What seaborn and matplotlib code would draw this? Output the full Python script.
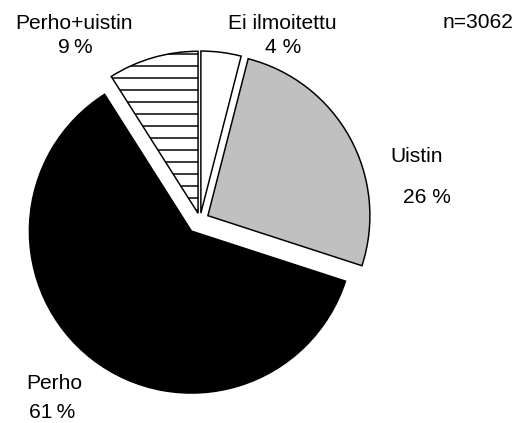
import matplotlib
matplotlib.use("Agg")
import matplotlib.pyplot as plt
import seaborn as sns

# ──────────────────────────────────────────────────────────────
# Data
# ──────────────────────────────────────────────────────────────
labels = ["Ei ilmoitettu", "Uistin", "Perho", "Perho+uistin"]
shares = [4, 26, 61, 9]
pct_text = ["4 %", "26 %", "61\u2009%", "9\u2009%"]
n_total = 3062

# ──────────────────────────────────────────────────────────────
# Style
# ──────────────────────────────────────────────────────────────
sns.set_theme(style="white")
plt.rcParams["font.family"] = ["Liberation Sans", "DejaVu Sans"]
plt.rcParams["hatch.linewidth"] = 1.5

W, H = 519, 423
fig = plt.figure(figsize=(W / 72, H / 72), dpi=72)
ax = fig.add_axes([0, 0, 1, 1])

colors = ["white", "#c0c0c0", "black", "white"]
hatches = ["", "", "", "-"]
# pie explode is in data units here (pixels)
explode = [7, 9, 14, 7]

wedges, _ = ax.pie(
    shares,
    colors=colors,
    explode=explode,
    startangle=90,
    counterclock=False,
    radius=162,
    center=(200, H - 220),
    wedgeprops=dict(edgecolor="black", linewidth=1.5),
)
for w, h in zip(wedges, hatches):
    if h:
        w.set_hatch(h)

ax.set_xlim(0, W)
ax.set_ylim(0, H)
ax.set_aspect("equal")
ax.axis("off")

fs = 21
txt = dict(fontsize=fs, color="black", va="baseline")

# labels around the pie
ax.text(74, H - 29, labels[3], ha="center", **txt)
ax.text(75, H - 53, pct_text[3], ha="center", **txt)
ax.text(282, H - 29, labels[0], ha="center", **txt)
ax.text(283, H - 53, pct_text[0], ha="center", **txt)
ax.text(417, H - 162, labels[1], ha="center", **txt)
ax.text(427, H - 203, pct_text[1], ha="center", **txt)
ax.text(54, H - 389, labels[2], ha="center", **txt)
ax.text(52, H - 418, pct_text[2], ha="center", **txt)
ax.text(513, H - 28, f"n={n_total}", ha="right", **txt)

fig.savefig("out.png", dpi=72, facecolor="white")
